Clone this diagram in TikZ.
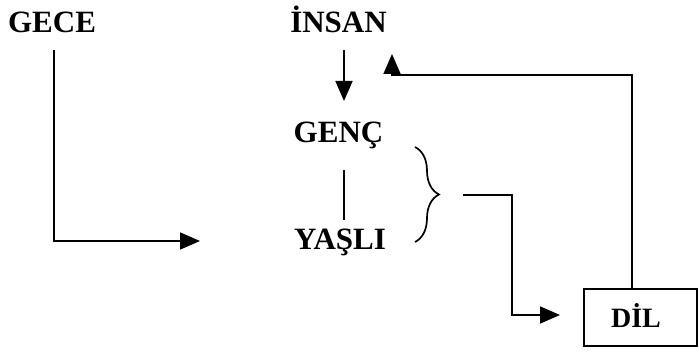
\documentclass[tikz,border=0pt]{standalone}
\usepackage{fontspec}
\setmainfont{Liberation Serif}
\usetikzlibrary{arrows.meta,decorations.pathreplacing}
\begin{document}
\begin{tikzpicture}[x=1pt,y=-1pt,
  line width=1.7pt,
  word/.style={font=\fontsize{31}{34}\selectfont\bfseries, inner sep=0pt, anchor=base},
  arr/.style={-{Triangle[length=20pt,width=17pt]}}]
  \useasboundingbox (0,0) rectangle (699,352);

  % words
  \node[word] (gece)  at (52,33)   {GECE};
  \node[word] (insan) at (338.5,33) {İNSAN};
  \node[word] (genc)  at (338.5,143) {GENÇ};
  \node[word] (yasli) at (340,250) {YAŞLI};

  % box for DİL
  \node[draw, minimum width=113pt, minimum height=57pt, inner sep=0pt] (dilbox) at (640.5,317.5) {};
  \node[word, font=\fontsize{28}{31}\selectfont\bfseries] (dil) at (636,328) {DİL};

  % helper points for free connector ends
  \coordinate (g1) at (54,50);
  \coordinate (g2) at (200,241);
  \coordinate (i1) at (344,50);
  \coordinate (i2) at (344,101);
  \coordinate (v1) at (344,170);
  \coordinate (v2) at (344,220);
  \coordinate (b1) at (415,147);
  \coordinate (b2) at (415,242);
  \coordinate (o1) at (463,195);
  \coordinate (o3) at (512,195);
  \coordinate (o2) at (560,315);
  \coordinate (d1) at (632,289);
  \coordinate (u1) at (392,75);
  \coordinate (u2) at (392,54);

  % GECE to the pair
  \draw[arr] (g1) |- (g2);
  % İNSAN down to GENÇ
  \draw[arr] (i1) -- (i2);
  % GENÇ -- YAŞLI
  \draw (v1) -- (v2);
  % brace grouping GENÇ and YAŞLI
  \draw[decorate, decoration={brace, amplitude=24pt, aspect=0.5}] (b1) -- (b2);
  % brace to DİL
  \draw[arr] (o1) -- (o3) |- (o2);
  % DİL back up to İNSAN
  \draw[arr] (d1) |- (u1) -- (u2);
\end{tikzpicture}
\end{document}
